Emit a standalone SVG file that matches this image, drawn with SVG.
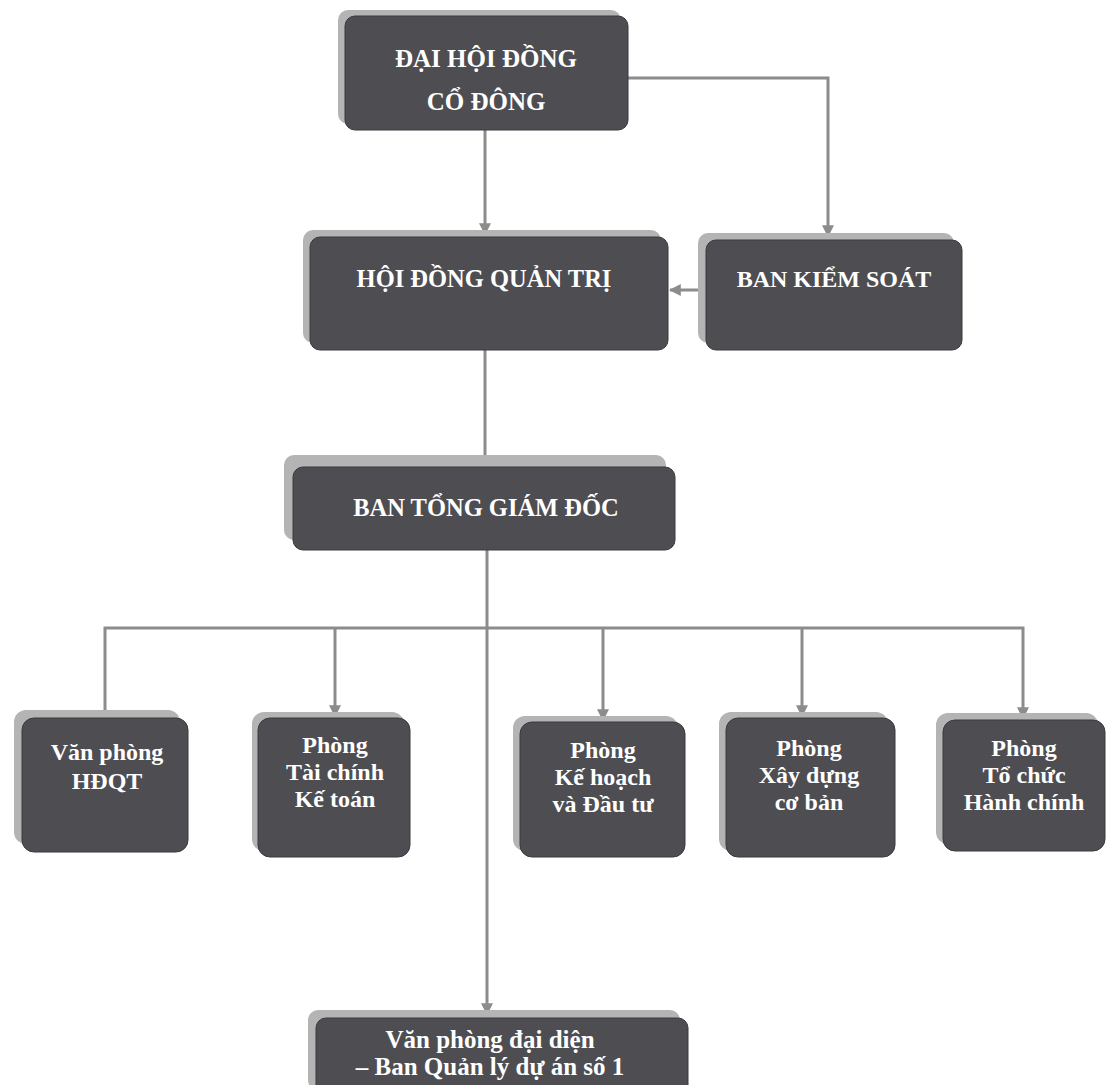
<svg xmlns="http://www.w3.org/2000/svg" width="1112" height="1085" viewBox="0 0 1112 1085">
<style>
.box{fill:#4d4d52;stroke:#3a3a3e;stroke-width:1}
.sh{fill:#b4b4b4}
.t{font-family:"Liberation Serif","Times New Roman",serif;font-weight:bold;fill:#ffffff;text-anchor:middle}
.big{font-size:24.5px}
.sm{font-size:24px}
.c{fill:none;stroke:#8c8c8c;stroke-width:3}
</style>
<defs>
<marker id="ah" viewBox="0 0 10 10" refX="9" refY="5" markerWidth="4" markerHeight="4" orient="auto" markerUnits="strokeWidth">
<path d="M0,0 L10,5 L0,10 z" fill="#8c8c8c"/>
</marker>
</defs>
<rect width="1112" height="1085" fill="#ffffff"/>
<g id="connectors">
<path class="c" d="M485,130 V234" marker-end="url(#ah)"/>
<path class="c" d="M628,78 H828 V236" marker-end="url(#ah)"/>
<path class="c" d="M706,290 H670" marker-end="url(#ah)"/>
<path class="c" d="M485,350 V467"/>
<path class="c" d="M487,550 V1014" marker-end="url(#ah)"/>
<path class="c" d="M105,716 V628 H1023 V718" marker-end="url(#ah)"/>
<path class="c" d="M335,628 V716" marker-end="url(#ah)"/>
<path class="c" d="M603,628 V720" marker-end="url(#ah)"/>
<path class="c" d="M802,628 V716" marker-end="url(#ah)"/>
</g>
<g id="dhdcd">
<rect class="sh" x="338" y="10" width="283" height="114" rx="10"/>
<rect class="box" x="345" y="16" width="283" height="114" rx="10"/>
<text class="t" x="486" y="67" font-size="25">ĐẠI HỘI ĐỒNG</text>
<text class="t" x="486" y="110" font-size="25">CỔ ĐÔNG</text>
</g>
<g id="hdqt">
<rect class="sh" x="303" y="230" width="358" height="113" rx="10"/>
<rect class="box" x="310" y="237" width="358" height="113" rx="10"/>
<text class="t big" x="484" y="287">HỘI ĐỒNG QUẢN TRỊ</text>
</g>
<g id="bks">
<rect class="sh" x="698" y="233" width="256" height="110" rx="10"/>
<rect class="box" x="706" y="240" width="256" height="110" rx="10"/>
<text class="t" x="834" y="287" font-size="24">BAN KIỂM SOÁT</text>
</g>
<g id="btgd">
<rect class="sh" x="284" y="455" width="382" height="85" rx="10"/>
<rect class="box" x="293" y="467" width="382" height="83" rx="10"/>
<text class="t big" x="486" y="516">BAN TỔNG GIÁM ĐỐC</text>
</g>
<g id="vphdqt">
<rect class="sh" x="14" y="710" width="166" height="134" rx="12"/>
<rect class="box" x="22" y="718" width="166" height="134" rx="12"/>
<text class="t sm" x="107" y="760">Văn phòng</text>
<text class="t sm" x="107" y="789">HĐQT</text>
</g>
<g id="tckt">
<rect class="sh" x="252" y="712" width="152" height="139" rx="12"/>
<rect class="box" x="258" y="718" width="152" height="139" rx="12"/>
<text class="t sm" x="335" y="753">Phòng</text>
<text class="t sm" x="335" y="780">Tài chính</text>
<text class="t sm" x="335" y="807">Kế toán</text>
</g>
<g id="khdt">
<rect class="sh" x="513" y="716" width="165" height="135" rx="12"/>
<rect class="box" x="520" y="722" width="165" height="135" rx="12"/>
<text class="t sm" x="603" y="758">Phòng</text>
<text class="t sm" x="603" y="785">Kế hoạch</text>
<text class="t sm" x="603" y="812">và Đầu tư</text>
</g>
<g id="xdcb">
<rect class="sh" x="719" y="712" width="169" height="139" rx="12"/>
<rect class="box" x="726" y="718" width="169" height="139" rx="12"/>
<text class="t sm" x="809" y="756">Phòng</text>
<text class="t sm" x="809" y="783">Xây dựng</text>
<text class="t sm" x="809" y="810">cơ bản</text>
</g>
<g id="tchc">
<rect class="sh" x="936" y="713" width="162" height="131" rx="12" fill="#d0d0d0"/>
<rect class="box" x="943" y="720" width="162" height="131" rx="12"/>
<text class="t sm" x="1024" y="756">Phòng</text>
<text class="t sm" x="1024" y="783">Tổ chức</text>
<text class="t sm" x="1024" y="810">Hành chính</text>
</g>
<g id="vpdd">
<rect class="sh" x="308" y="1010" width="372" height="80" rx="10"/>
<rect class="box" x="316" y="1018" width="372" height="80" rx="10"/>
<text class="t" x="490" y="1048" font-size="25">Văn phòng đại diện</text>
<text class="t" x="490" y="1075" font-size="25">– Ban Quản lý dự án số 1</text>
</g>
</svg>
